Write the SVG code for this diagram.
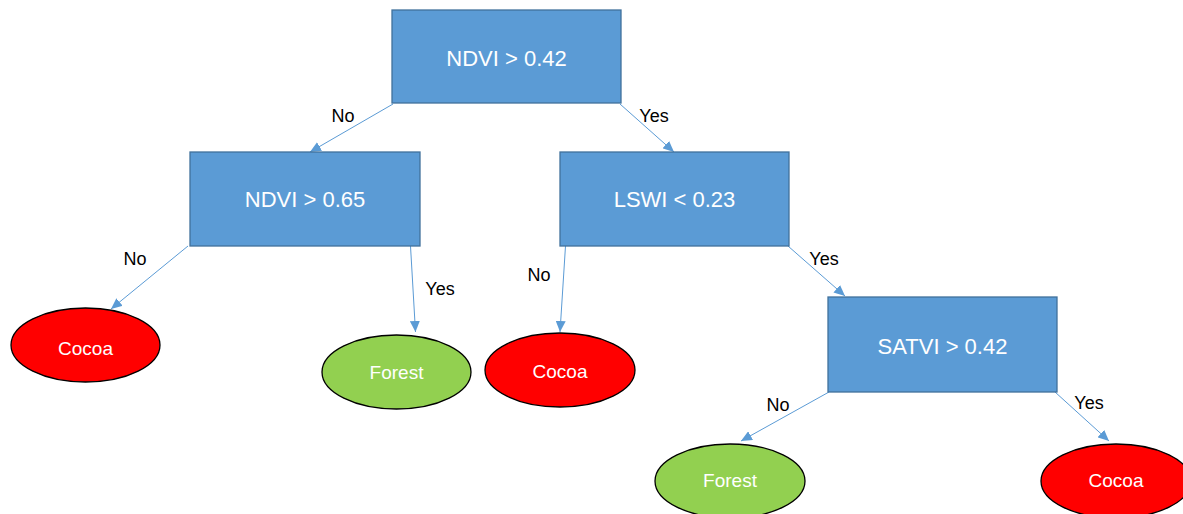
<svg xmlns="http://www.w3.org/2000/svg" width="1183" height="514" viewBox="0 0 1183 514">
<style>
.box{fill:#5B9BD5;stroke:#41719C;stroke-width:1.3}
.red{fill:#FF0000;stroke:#000;stroke-width:1.3}
.green{fill:#92D050;stroke:#000;stroke-width:1.3}
.nt{font-family:"Liberation Sans",Arial,sans-serif;fill:#fff;text-anchor:middle}
.bt{font-size:22px}
.et{font-size:19px}
.lbl{font-family:"Liberation Sans",Arial,sans-serif;font-size:18px;fill:#000;text-anchor:middle}
.edge{stroke:#5B9BD5;stroke-width:1;fill:none;marker-end:url(#ah)}
</style>
<defs>
<marker id="ah" markerUnits="userSpaceOnUse" markerWidth="12" markerHeight="10" refX="11" refY="5" orient="auto">
<path d="M0,0 L11,5 L0,10 z" fill="#5B9BD5"/>
</marker>
</defs>
<rect width="1183" height="514" fill="#fff"/>
<g id="connectors">
<line class="edge" x1="393" y1="104" x2="310" y2="152"/>
<line class="edge" x1="620" y1="104" x2="674" y2="152"/>
<line class="edge" x1="188" y1="246" x2="111" y2="309"/>
<line class="edge" x1="410.5" y1="246" x2="415.5" y2="332"/>
<line class="edge" x1="565.5" y1="246" x2="560" y2="332"/>
<line class="edge" x1="788" y1="246" x2="845" y2="296"/>
<line class="edge" x1="829" y1="392" x2="741" y2="441"/>
<line class="edge" x1="1055" y1="392" x2="1109" y2="441"/>
<text class="lbl" x="343" y="122">No</text>
<text class="lbl" x="654" y="122">Yes</text>
<text class="lbl" x="135" y="265">No</text>
<text class="lbl" x="440" y="295">Yes</text>
<text class="lbl" x="539" y="281">No</text>
<text class="lbl" x="824" y="265">Yes</text>
<text class="lbl" x="778" y="411">No</text>
<text class="lbl" x="1089" y="409">Yes</text>
</g>
<g id="n1"><rect class="box" x="392" y="10" width="229" height="93"/><text class="nt bt" x="506.5" y="66">NDVI &gt; 0.42</text></g>
<g id="n2"><rect class="box" x="190" y="152" width="230" height="94"/><text class="nt bt" x="305" y="207">NDVI &gt; 0.65</text></g>
<g id="n3"><rect class="box" x="560" y="152" width="229" height="94"/><text class="nt bt" x="674.5" y="207">LSWI &lt; 0.23</text></g>
<g id="n4"><rect class="box" x="828" y="297" width="229" height="95"/><text class="nt bt" x="942.5" y="354">SATVI &gt; 0.42</text></g>
<g id="l1"><ellipse class="red" cx="85.5" cy="345" rx="74.5" ry="37"/><text class="nt et" x="85.5" y="355">Cocoa</text></g>
<g id="l2"><ellipse class="green" cx="396.5" cy="372" rx="74.5" ry="37"/><text class="nt et" x="396.5" y="379">Forest</text></g>
<g id="l3"><ellipse class="red" cx="560" cy="370" rx="75" ry="37"/><text class="nt et" x="560" y="378">Cocoa</text></g>
<g id="l4"><ellipse class="green" cx="730" cy="481" rx="75" ry="37"/><text class="nt et" x="730" y="487">Forest</text></g>
<g id="l5"><ellipse class="red" cx="1116" cy="481" rx="75" ry="37"/><text class="nt et" x="1116" y="487">Cocoa</text></g>
</svg>
